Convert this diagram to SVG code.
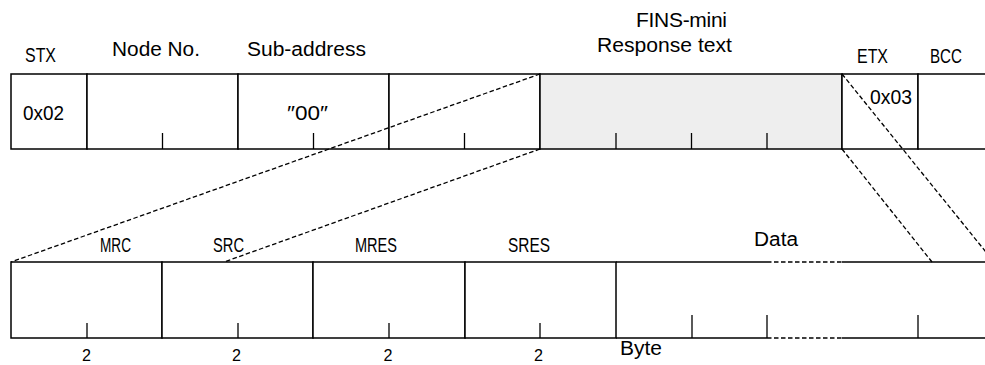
<svg xmlns="http://www.w3.org/2000/svg" width="985" height="365" viewBox="0 0 985 365">
<style>
.cell{fill:#fff;stroke:#000;stroke-width:1.5}
.gray{fill:#eeeeee;stroke:#000;stroke-width:1.5}
.ln{stroke:#000;stroke-width:1.5;fill:none}
.tick{stroke:#000;stroke-width:1.3}
.dash{stroke:#000;stroke-width:1.3;fill:none;stroke-dasharray:4.5 2.5}
.a{font-family:"Liberation Sans",Arial,sans-serif;font-size:20px;fill:#000}
.g{font-family:"Liberation Sans",Arial,sans-serif;font-size:21px;fill:#000}
.n{font-family:"Liberation Sans",Arial,sans-serif;font-size:17px;fill:#000}
</style>
<rect width="985" height="365" fill="#fff"/>
<!-- top row -->
<g id="stx">
<rect class="cell" x="11" y="74" width="76" height="75"/>
<text class="g" x="25" y="62" textLength="31" lengthAdjust="spacingAndGlyphs">STX</text>
<text class="g" x="23" y="120" textLength="41" lengthAdjust="spacingAndGlyphs">0x02</text>
</g>
<g id="node-no">
<rect class="cell" x="87" y="74" width="151" height="75"/>
<line class="tick" x1="162.5" y1="133" x2="162.5" y2="149"/>
<text class="a" x="112" y="55.5" textLength="88" lengthAdjust="spacingAndGlyphs">Node No.</text>
</g>
<g id="sub-address">
<rect class="cell" x="238" y="74" width="151" height="75"/>
<line class="tick" x1="313.5" y1="133" x2="313.5" y2="149"/>
<text class="a" x="247" y="55.5" textLength="119" lengthAdjust="spacingAndGlyphs">Sub-address</text>
<text class="g" x="287" y="120" textLength="41" lengthAdjust="spacingAndGlyphs">″00″</text>
</g>
<g id="field-blank">
<rect class="cell" x="389" y="74" width="151" height="75"/>
<line class="tick" x1="464.5" y1="133" x2="464.5" y2="149"/>
</g>
<g id="fins-mini">
<rect class="gray" x="540" y="74" width="302" height="75"/>
<line class="tick" x1="616" y1="133" x2="616" y2="149"/>
<line class="tick" x1="691.5" y1="133" x2="691.5" y2="149"/>
<line class="tick" x1="767" y1="133" x2="767" y2="149"/>
<text class="g" x="636" y="27" textLength="91" lengthAdjust="spacing">FINS-mini</text>
<text class="a" x="597" y="52" textLength="135" lengthAdjust="spacingAndGlyphs">Response text</text>
</g>
<g id="etx">
<rect class="cell" x="842" y="74" width="76" height="75"/>
<text class="g" x="857" y="63" textLength="31" lengthAdjust="spacingAndGlyphs">ETX</text>
<text class="g" x="870" y="104" textLength="42" lengthAdjust="spacingAndGlyphs">0x03</text>
</g>
<g id="bcc">
<rect class="cell" x="918" y="74" width="80" height="75"/>
<text class="g" x="930" y="63" textLength="32" lengthAdjust="spacingAndGlyphs">BCC</text>
</g>
<!-- bottom row -->
<g id="mrc">
<rect class="cell" x="11" y="262" width="151" height="76"/>
<line class="tick" x1="87" y1="323" x2="87" y2="338"/>
<text class="g" x="100" y="252" textLength="31" lengthAdjust="spacingAndGlyphs">MRC</text>
<text class="n" x="82" y="361" textLength="9" lengthAdjust="spacingAndGlyphs">2</text>
</g>
<g id="src">
<rect class="cell" x="162" y="262" width="151" height="76"/>
<line class="tick" x1="238" y1="323" x2="238" y2="338"/>
<text class="g" x="213" y="252" textLength="31" lengthAdjust="spacingAndGlyphs">SRC</text>
<text class="n" x="232" y="361" textLength="9" lengthAdjust="spacingAndGlyphs">2</text>
</g>
<g id="mres">
<rect class="cell" x="313" y="262" width="152" height="76"/>
<line class="tick" x1="389" y1="323" x2="389" y2="338"/>
<text class="g" x="355" y="252" textLength="42" lengthAdjust="spacingAndGlyphs">MRES</text>
<text class="n" x="383.5" y="361" textLength="9" lengthAdjust="spacingAndGlyphs">2</text>
</g>
<g id="sres">
<rect class="cell" x="465" y="262" width="151" height="76"/>
<line class="tick" x1="540" y1="323" x2="540" y2="338"/>
<text class="g" x="508" y="252" textLength="42" lengthAdjust="spacingAndGlyphs">SRES</text>
<text class="n" x="534" y="361" textLength="9" lengthAdjust="spacingAndGlyphs">2</text>
</g>
<g id="data">
<path class="ln" d="M616 262H767M842 262H985M616 338H767M842 338H985"/>
<path class="dash" d="M767 262H842M767 338H842" stroke-dasharray="5 2"/>
<line class="tick" x1="692" y1="315" x2="692" y2="338"/>
<line class="tick" x1="767" y1="315" x2="767" y2="338"/>
<line class="tick" x1="918" y1="315" x2="918" y2="338"/>
<text class="a" x="754" y="245.5" textLength="44" lengthAdjust="spacingAndGlyphs">Data</text>
<text class="a" x="620" y="355" textLength="42" lengthAdjust="spacingAndGlyphs">Byte</text>
</g>
<!-- connectors -->
<g id="connectors">
<line class="dash" x1="540" y1="74" x2="11" y2="262"/>
<line class="dash" x1="540" y1="149" x2="224" y2="262"/>
<line class="dash" x1="842" y1="149" x2="932" y2="262"/>
<line class="dash" x1="842" y1="74" x2="994" y2="262"/>
</g>
</svg>
